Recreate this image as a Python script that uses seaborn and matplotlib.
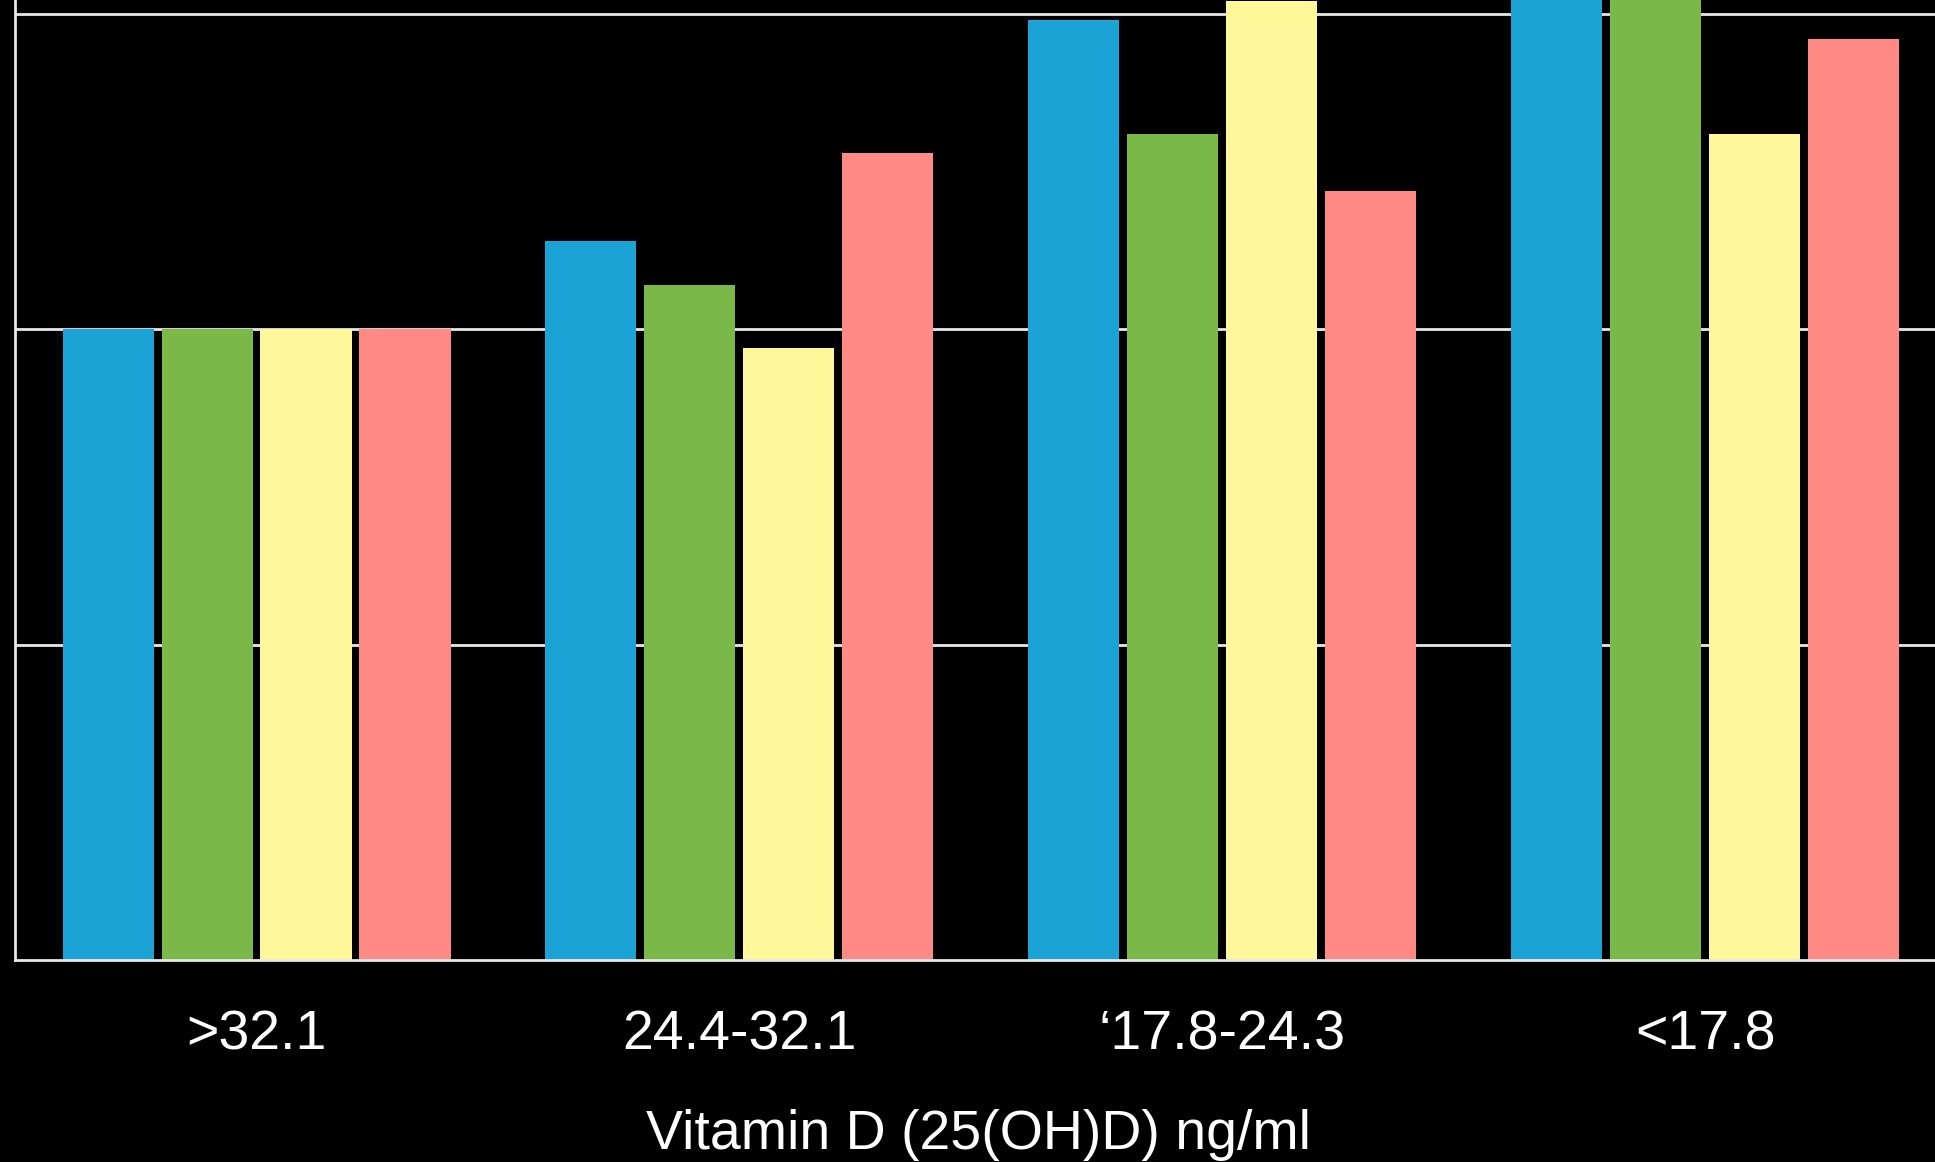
import pandas as pd
import matplotlib
matplotlib.use("Agg")
import matplotlib.pyplot as plt
import seaborn as sns

# vitamin D ranges on the x axis
categories = [">32.1", "24.4-32.1", "\u201817.8-24.3", "<17.8"]
series_names = ["A", "B", "C", "D"]
colors = ["#1aa3d4", "#7ab848", "#fff799", "#ff8a85"]

# relative values per series (last group's A and B run past the top)
values_a = [1.00, 1.14, 1.49, 1.62]
values_b = [1.00, 1.07, 1.31, 1.58]
values_c = [1.00, 0.97, 1.52, 1.31]
values_d = [1.00, 1.28, 1.22, 1.46]

x_label = "Vitamin D (25(OH)D) ng/ml"

rows = []
for name, vals in zip(series_names, [values_a, values_b, values_c, values_d]):
    for cat, v in zip(categories, vals):
        rows.append({"range": cat, "series": name, "value": v})
df = pd.DataFrame(rows)

sns.set_theme(style="dark")
plt.rcParams["font.family"] = ["Liberation Sans", "DejaVu Sans"]

fig = plt.figure(figsize=(19.35, 11.62), dpi=100, facecolor="black")
ax = fig.add_axes([0.0078, 0.1735, 1 - 0.0078, 1 - 0.1735])
ax.set_facecolor("black")

sns.barplot(data=df, x="range", y="value", hue="series", order=categories,
            hue_order=series_names, palette=colors, saturation=1,
            width=0.82, gap=0.08, legend=False, errorbar=None,
            edgecolor="none", ax=ax)

ax.set_ylim(0, 1.522)
ax.set_xlim(-0.5, 3.476)
ax.set_yticks([0.5, 1.0, 1.5])
ax.set_yticklabels([])
ax.yaxis.grid(True, color="#e8e8e8", linewidth=2)
ax.xaxis.grid(False)
ax.set_axisbelow(True)

for side in ["top", "right"]:
    ax.spines[side].set_visible(False)
for side in ["left", "bottom"]:
    ax.spines[side].set_visible(True)
    ax.spines[side].set_color("#e8e8e8")
    ax.spines[side].set_linewidth(2)

ax.tick_params(axis="x", length=0, pad=35, labelsize=40, colors="white")
ax.tick_params(axis="y", length=0)
ax.set_ylabel("")
ax.set_xlabel(x_label, fontsize=40, color="white")
ax.xaxis.set_label_coords(0.502, -0.182)
ax.xaxis.label.set_va("center")

fig.savefig("out.png", dpi=100, facecolor="black")
